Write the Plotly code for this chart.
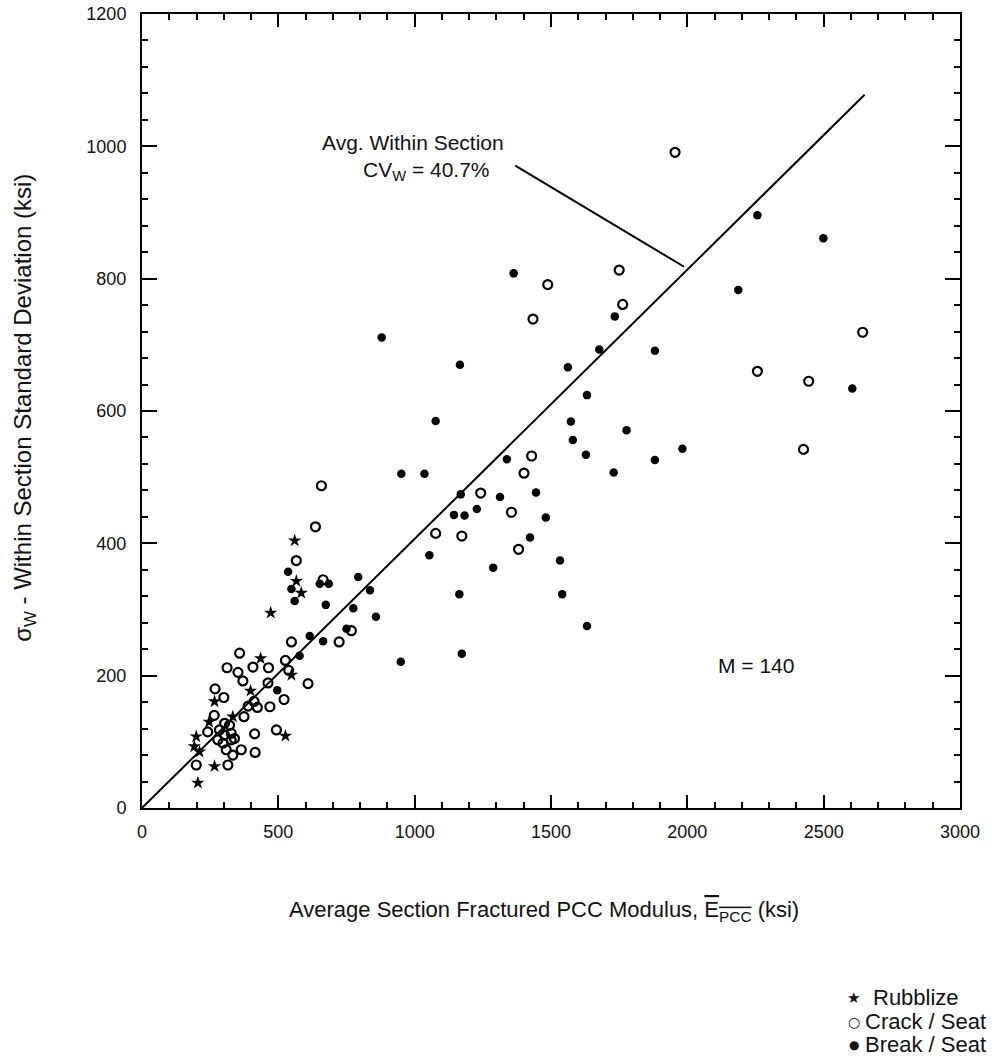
import plotly.graph_objects as go

# ---- data (ksi) ----
rubblize_x = [560, 566, 584, 472, 435, 548, 398, 266, 246, 333, 526, 199, 192, 211, 266, 205]
rubblize_y = [404, 343, 325, 295, 226, 201, 177, 161, 130, 138, 109, 108, 93, 85, 63, 38]

crack_x = [1488, 1750, 1763, 1434, 1429, 1401, 1242, 1355, 1077, 1173, 1381, 768, 723,
           2643, 2257, 2445, 2426, 1955, 658, 636, 566, 664, 548, 358, 312, 352, 407,
           464, 526, 538, 370, 462, 609, 268, 521, 300, 411, 423, 389, 469, 374, 265,
           303, 321, 413, 493, 241, 284, 303, 327, 278, 297, 327, 339, 309, 364, 415,
           199, 315, 333]
crack_y = [791, 813, 761, 739, 532, 506, 476, 447, 415, 411, 391, 268, 251,
           719, 660, 645, 542, 991, 487, 425, 374, 345, 251, 234, 212, 205, 213,
           212, 223, 208, 192, 189, 188, 180, 164, 167, 161, 152, 154, 153, 138, 140,
           128, 125, 112, 118, 115, 118, 110, 113, 103, 98, 103, 105, 88, 88, 84,
           65, 65, 80]

break_x = [1363, 1734, 879, 1677, 1881, 1562, 1166, 1632, 1077, 1573, 1777, 1580, 1982,
           1628, 1881, 1338, 951, 1036, 1730, 1445, 1169, 1313, 1144, 1183, 1228, 1481,
           1423, 1054, 1533, 1288, 793, 836, 1164, 1541, 775, 858, 1632, 750, 1173, 949,
           2257, 2499, 2187, 2605, 536, 548, 652, 685, 674, 615, 664, 578, 496, 560]
break_y = [808, 743, 711, 693, 691, 666, 670, 624, 585, 584, 571, 556, 543,
           534, 526, 527, 505, 505, 507, 477, 474, 470, 443, 442, 452, 439,
           409, 382, 374, 363, 349, 329, 323, 323, 302, 289, 275, 271, 233, 221,
           896, 861, 783, 634, 357, 331, 339, 339, 307, 260, 252, 230, 178, 313]

# average within-section CV line (sigma = 0.407 * E)
fit_x = [0, 2650]
fit_y = [0, 1078]

# leader line from annotation to fitted line
leader_x = [1369, 1988]
leader_y = [971, 818]

# key entries (glyph, label)
key_glyphs = ["★", "○", "●"]
key_labels = ["Rubblize", "Crack / Seat", "Break / Seat"]

FONT = "Liberation Sans, Arial, Helvetica, sans-serif"
INK = "#111"

fig = go.Figure()

fig.add_trace(go.Scatter(x=fit_x, y=fit_y, mode="lines",
                         line=dict(color="black", width=2), showlegend=False,
                         hoverinfo="skip"))
fig.add_trace(go.Scatter(x=leader_x, y=leader_y, mode="lines",
                         line=dict(color="black", width=2), showlegend=False,
                         hoverinfo="skip"))

fig.add_trace(go.Scatter(x=rubblize_x, y=rubblize_y, mode="markers", name=key_labels[0],
                         showlegend=False,
                         marker=dict(symbol="star", size=10, color="black",
                                     line=dict(width=0))))
fig.add_trace(go.Scatter(x=crack_x, y=crack_y, mode="markers", name=key_labels[1],
                         showlegend=False,
                         marker=dict(symbol="circle-open", size=9, color="black",
                                     line=dict(width=2.2, color="black"))))
fig.add_trace(go.Scatter(x=break_x, y=break_y, mode="markers", name=key_labels[2],
                         showlegend=False,
                         marker=dict(symbol="circle", size=8.5, color="black",
                                     line=dict(width=0))))

axis_common = dict(
    showgrid=False, zeroline=False, showline=True, linecolor="black", linewidth=2,
    mirror="allticks", ticks="inside", tickcolor="black", tickwidth=1.5,
    tickfont=dict(family=FONT, size=18, color=INK),
)

fig.update_xaxes(range=[0, 3000], tickvals=[0, 500, 1000, 1500, 2000, 2500, 3000],
                 ticklen=13, minor=dict(dtick=100, ticks="inside", ticklen=6,
                                        tickcolor="black", tickwidth=1.5),
                 ticklabelstandoff=6, **axis_common)
fig.update_yaxes(range=[0, 1200], tickvals=[0, 200, 400, 600, 800, 1000, 1200],
                 ticklen=15, minor=dict(dtick=40, ticks="inside", ticklen=6,
                                        tickcolor="black", tickwidth=1.5),
                 ticklabelstandoff=10, **axis_common)

annotations = [
    dict(text="σ<sub>W</sub> - Within Section Standard Deviation (ksi)",
         xref="paper", yref="paper", x=-0.143, y=0.504, textangle=-90,
         showarrow=False, font=dict(family=FONT, size=24, color=INK),
         xanchor="center", yanchor="middle"),
    dict(text="Average Section Fractured PCC Modulus, "
              "<span style='text-decoration:overline'>E<sub>PCC</sub></span> (ksi)",
         xref="paper", yref="paper", x=0.492, y=-0.13, showarrow=False,
         font=dict(family=FONT, size=22, color=INK),
         xanchor="center", yanchor="middle"),
    dict(text="Avg. Within Section", xref="x", yref="y", x=993, y=1006,
         showarrow=False, font=dict(family=FONT, size=21, color=INK),
         xanchor="center", yanchor="middle"),
    dict(text="CV<sub>W</sub> = 40.7%", xref="x", yref="y", x=1044, y=963,
         showarrow=False, font=dict(family=FONT, size=21, color=INK),
         xanchor="center", yanchor="middle"),
    dict(text="M = 140", xref="x", yref="y", x=2253, y=216,
         showarrow=False, font=dict(family=FONT, size=21, color=INK),
         xanchor="center", yanchor="middle"),
]

key_y = [-0.239, -0.269, -0.298]
key_text_x = [0.891, 0.882, 0.882]
key_glyph_size = [15, 14, 12]
for g, lab, yy, tx, gs in zip(key_glyphs, key_labels, key_y, key_text_x, key_glyph_size):
    annotations.append(dict(text=g, xref="paper", yref="paper", x=0.870, y=yy,
                            showarrow=False, xanchor="center", yanchor="middle",
                            font=dict(family="DejaVu Sans", size=gs, color=INK)))
    annotations.append(dict(text=lab, xref="paper", yref="paper", x=tx, y=yy,
                            showarrow=False, xanchor="left", yanchor="middle",
                            font=dict(family=FONT, size=22, color=INK)))

fig.update_layout(
    width=992, height=1059,
    margin=dict(l=142, r=32, t=14, b=251, autoexpand=False),
    paper_bgcolor="white", plot_bgcolor="white",
    font=dict(family=FONT, size=18, color=INK),
    annotations=annotations,
    showlegend=False,
)

fig.write_html("out.html", config={"displayModeBar": False},
               post_script="document.body.style.margin='0px';"
                           "document.body.style.overflow='hidden';")
